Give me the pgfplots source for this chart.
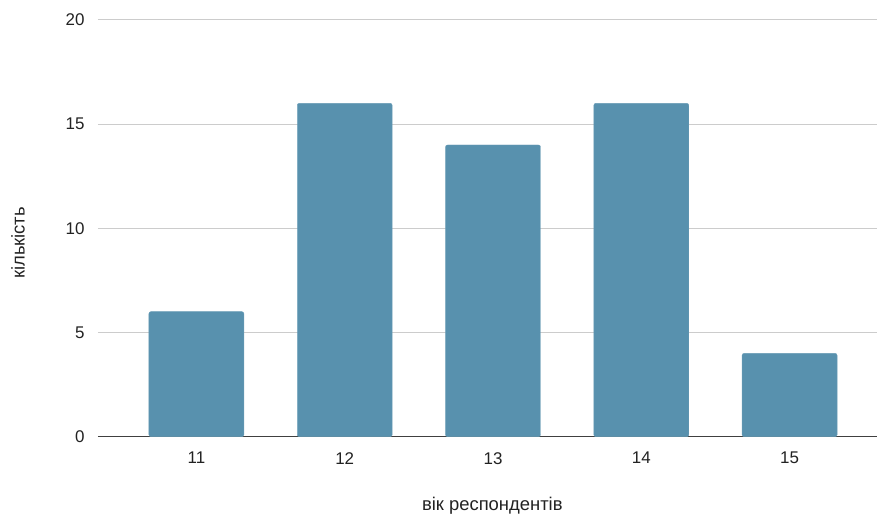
\documentclass[border=0pt]{standalone}
\usepackage{pgfplots}
\pgfplotsset{compat=1.18}
\usepackage{fontspec}
\setmainfont{Liberation Sans}
\definecolor{barblue}{HTML}{5891AE}
\definecolor{gridgray}{HTML}{CCCCCC}
\definecolor{txt}{HTML}{222222}
\begin{document}
\begin{tikzpicture}[x=1bp,y=1bp]
\path (0,0) rectangle (878,515);
\begin{axis}[
  at={(98bp,78bp)}, anchor=south west,
  scale only axis, width=780bp, height=417bp,
  xmin=-0.664, xmax=4.592, ymin=0, ymax=20,
  xtick={0,1,2,3,4}, xticklabels={11,12,13,14,15},
  ytick={0,5,10,15,20},
  ymajorgrids, grid style={gridgray, line width=1bp},
  axis line style={draw=none},
  major tick length=0pt,
  extra y ticks={0}, extra y tick labels={},
  extra y tick style={grid style={black!75, line width=1.2bp}},
  tick label style={font=\fontsize{17}{20}\selectfont, text=txt},
  /pgf/number format/assume math mode=true,
  yticklabel style={xshift=-10bp},
  xticklabel style={yshift=-12bp},
  xlabel={вік респондентів}, ylabel={кількість},
  label style={font=\fontsize{18.5}{22}\selectfont, text=txt},
  xlabel style={at={(axis description cs:0.506,0)}, anchor=center, yshift=-69bp},
  ylabel style={at={(axis description cs:0,0.465)}, anchor=center, yshift=80bp},
]
\addplot[ybar, bar width=0.64, fill=barblue, draw=barblue!90!white, rounded corners=2bp]
  coordinates {(0,6) (1,16) (2,14) (3,16) (4,4)};
\end{axis}
\end{tikzpicture}
\end{document}
